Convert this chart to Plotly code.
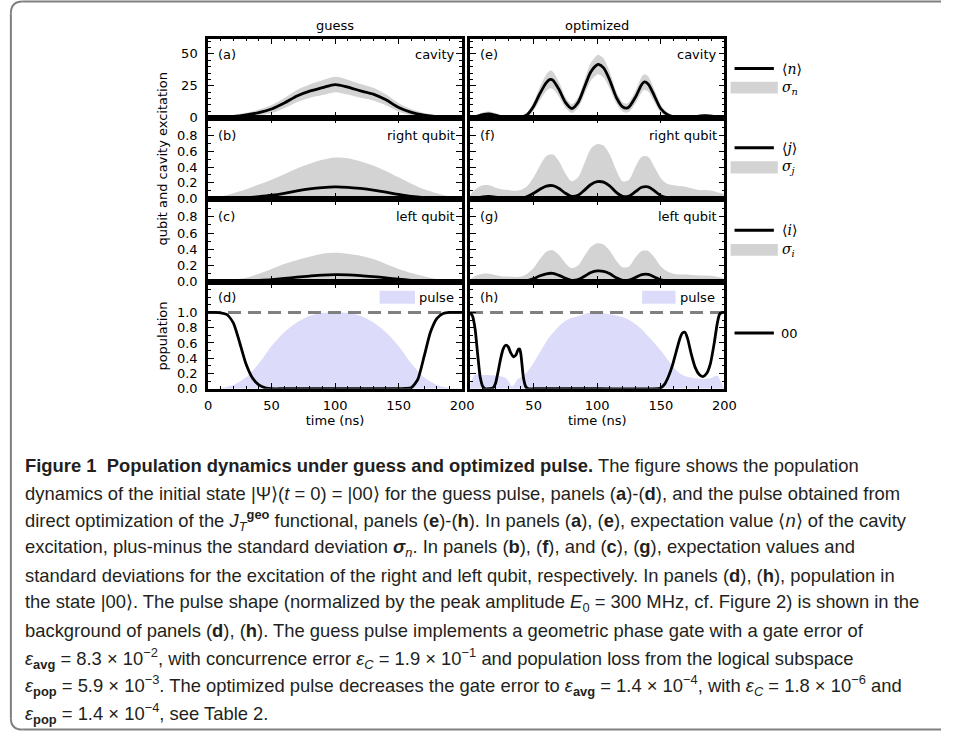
import plotly.graph_objects as go

W, H = 954, 739

# ---------------- data ----------------
t_g = [0, 10, 20, 30, 40, 50, 60, 70, 80, 90, 100, 110, 120, 130, 140, 150, 160, 170, 180, 190, 200]
n_guess = [0.3, 0.5, 1.0, 2.2, 4.0, 6.8, 11.5, 17.0, 20.8, 23.5, 26.0, 24.0, 21.0, 18.5, 14.0, 8.0, 4.2, 2.0, 0.9, 0.5, 0.3]
sn_guess = [0.4, 0.6, 1.0, 1.6, 2.4, 3.2, 4.0, 4.8, 5.3, 5.8, 6.0, 5.8, 5.4, 5.0, 4.3, 3.3, 2.4, 1.6, 1.0, 0.6, 0.4]
j_guess = [0.0, 0.002, 0.006, 0.015, 0.028, 0.045, 0.07, 0.1, 0.125, 0.142, 0.15, 0.145, 0.13, 0.11, 0.085, 0.055, 0.03, 0.015, 0.006, 0.002, 0.0]
sj_guess = [0.01, 0.028, 0.064, 0.105, 0.152, 0.195, 0.24, 0.28, 0.315, 0.348, 0.37, 0.365, 0.34, 0.31, 0.265, 0.215, 0.16, 0.105, 0.064, 0.028, 0.01]
i_guess = [0.0, 0.001, 0.004, 0.01, 0.018, 0.028, 0.042, 0.058, 0.072, 0.084, 0.09, 0.087, 0.078, 0.065, 0.05, 0.033, 0.02, 0.01, 0.004, 0.001, 0.0]
si_guess = [0.005, 0.014, 0.026, 0.04, 0.082, 0.132, 0.178, 0.212, 0.238, 0.261, 0.267, 0.258, 0.242, 0.215, 0.17, 0.127, 0.09, 0.06, 0.031, 0.014, 0.005]

t_pop_g = [0, 5, 10, 15, 20, 25, 30, 35, 40, 45, 50, 60, 80, 100, 120, 140, 150, 155, 160, 165, 170, 175, 180, 185, 190, 195, 200]
pop_guess = [1.0, 1.0, 0.995, 0.97, 0.86, 0.6, 0.32, 0.14, 0.05, 0.012, 0.0, 0.0, 0.0, 0.0, 0.0, 0.0, 0.0, 0.004, 0.015, 0.12, 0.42, 0.74, 0.92, 0.985, 1.0, 1.0, 1.0]
pulse_guess = [0.0, 0.01, 0.05, 0.15, 0.33, 0.56, 0.74, 0.87, 0.955, 0.995, 1.0, 0.995, 0.955, 0.87, 0.74, 0.56, 0.33, 0.15, 0.05, 0.01, 0.0]

t_o = [0, 5, 10, 15, 20, 25, 30, 35, 40, 45, 50, 55, 60, 63, 65, 70, 75, 80, 85, 90, 95, 100, 101, 105, 110, 115, 120, 123, 125, 130, 135, 137, 140, 145, 150, 155, 160, 165, 170, 175, 180, 185, 190, 195, 200]
n_opt = [0.2, 1.0, 2.5, 3.0, 2.0, 0.8, 0.5, 0.5, 0.7, 2.5, 9.0, 19.0, 27.5, 30.0, 29.5, 22.0, 12.0, 7.2, 12.0, 24.0, 36.0, 41.5, 41.7, 39.0, 29.0, 16.0, 8.5, 7.5, 8.5, 16.0, 26.0, 28.0, 26.5, 17.0, 7.0, 2.5, 0.8, 0.6, 0.6, 0.8, 1.2, 1.6, 1.3, 0.7, 0.3]
sn_opt = [0.3, 1.0, 1.6, 1.8, 1.4, 0.8, 0.6, 0.6, 0.8, 1.8, 3.5, 5.2, 6.5, 6.9, 6.8, 5.8, 4.2, 3.5, 4.2, 5.6, 7.0, 7.7, 7.7, 7.5, 6.5, 4.8, 3.6, 3.5, 3.8, 5.0, 6.0, 6.1, 6.0, 5.0, 3.2, 1.8, 1.0, 0.8, 0.8, 1.0, 1.2, 1.4, 1.2, 0.8, 0.5]

t_q = [0, 5, 10, 15, 20, 25, 30, 35, 40, 45, 50, 55, 60, 65, 70, 75, 80, 85, 90, 95, 100, 105, 110, 115, 120, 125, 130, 135, 140, 145, 150, 155, 160, 165, 170, 175, 180, 185, 190, 195, 200]
j_opt = [0.0, 0.01, 0.025, 0.03, 0.02, 0.01, 0.008, 0.008, 0.01, 0.03, 0.07, 0.12, 0.16, 0.165, 0.13, 0.07, 0.03, 0.045, 0.11, 0.18, 0.215, 0.21, 0.16, 0.08, 0.03, 0.035, 0.09, 0.145, 0.15, 0.1, 0.04, 0.015, 0.008, 0.006, 0.006, 0.008, 0.01, 0.012, 0.01, 0.005, 0.003]
sj_opt = [0.05, 0.12, 0.145, 0.14, 0.12, 0.11, 0.102, 0.092, 0.1, 0.13, 0.2, 0.3, 0.38, 0.395, 0.34, 0.25, 0.19, 0.225, 0.34, 0.45, 0.475, 0.46, 0.39, 0.28, 0.19, 0.205, 0.31, 0.385, 0.38, 0.3, 0.22, 0.175, 0.162, 0.154, 0.144, 0.122, 0.1, 0.098, 0.09, 0.075, 0.057]
i_opt = [0.0, 0.005, 0.012, 0.015, 0.01, 0.005, 0.004, 0.004, 0.006, 0.015, 0.04, 0.075, 0.1, 0.105, 0.08, 0.045, 0.02, 0.03, 0.07, 0.115, 0.135, 0.13, 0.1, 0.05, 0.02, 0.022, 0.055, 0.09, 0.092, 0.06, 0.025, 0.01, 0.005, 0.004, 0.004, 0.005, 0.006, 0.007, 0.006, 0.003, 0.002]
si_opt = [0.03, 0.075, 0.088, 0.085, 0.075, 0.065, 0.061, 0.056, 0.059, 0.085, 0.13, 0.205, 0.27, 0.285, 0.25, 0.185, 0.15, 0.17, 0.25, 0.315, 0.34, 0.33, 0.28, 0.21, 0.16, 0.168, 0.245, 0.29, 0.288, 0.24, 0.165, 0.12, 0.095, 0.086, 0.086, 0.08, 0.074, 0.073, 0.069, 0.057, 0.038]

t_pop_o = [0, 2, 4, 6, 8, 10, 12, 15, 18, 20, 22, 24, 26, 28, 30, 32, 34, 36, 38, 39, 40, 42, 44, 46, 50, 100, 148, 150, 153, 156, 159, 162, 165, 167, 169, 171, 174, 177, 180, 183, 186, 189, 192, 194, 196, 198, 200]
pop_opt = [1.0, 0.95, 0.78, 0.45, 0.15, 0.03, 0.0, 0.0, 0.01, 0.07, 0.22, 0.39, 0.52, 0.57, 0.55, 0.47, 0.42, 0.44, 0.52, 0.52, 0.45, 0.14, 0.02, 0.0, 0.0, 0.0, 0.0, 0.01, 0.06, 0.16, 0.3, 0.48, 0.66, 0.73, 0.74, 0.66, 0.45, 0.28, 0.19, 0.16, 0.2, 0.33, 0.6, 0.82, 0.97, 1.0, 1.0]

t_pulse_o = [0, 3, 5, 10, 15, 20, 25, 28, 31, 33, 35, 37, 40, 45, 50, 55, 60, 65, 70, 75, 80, 85, 90, 95, 100, 105, 110, 115, 120, 125, 130, 135, 140, 145, 150, 155, 160, 165, 170, 175, 180, 185, 190, 193, 195, 197, 200]
pulse_opt = [0.05, 0.17, 0.19, 0.18, 0.18, 0.17, 0.16, 0.14, 0.08, 0.03, 0.06, 0.12, 0.15, 0.22, 0.34, 0.48, 0.62, 0.73, 0.82, 0.89, 0.93, 0.95, 0.98, 0.995, 1.0, 0.99, 0.975, 0.96, 0.94, 0.9, 0.85, 0.78, 0.69, 0.6, 0.5, 0.39, 0.28, 0.2, 0.16, 0.14, 0.13, 0.13, 0.14, 0.17, 0.16, 0.1, 0.0]

# ---------------- helpers ----------------
def PX(x):
    return x / W

def PY(y):
    return 1 - y / H

BAND = "#d3d3d3"
PULSE = "#dcdcfa"
FONT = "DejaVu Sans"
TXT = 13

col_x = [(207.5, 466.0), (474.0, 732.7)]
row_y = [(39, 119), (119, 201), (201, 285), (285, 393)]
yranges = [[0, 62], [0, 1.02], [0, 1.02], [0, 1.4]]
ytickv = [[0, 25, 50], [0, 0.2, 0.4, 0.6, 0.8], [0, 0.2, 0.4, 0.6, 0.8], [0, 0.2, 0.4, 0.6, 0.8, 1.0]]
yminor = [5, 0.1, 0.1, 0.1]

fig = go.Figure()
layout = {}

panel_names = ["a", "b", "c", "d", "e", "f", "g", "h"]
for k in range(8):
    col, row = k // 4, k % 4
    idx = k + 1
    xs = "" if idx == 1 else str(idx)
    x0, x1 = col_x[col]
    yt, yb = row_y[row]
    xtv = [0, 50, 100, 150, 200] if col == 0 else [50, 100, 150, 200]
    xa = dict(
        domain=[PX(x0), PX(x1)], anchor="y" + xs, range=[0, 200],
        showline=True, linewidth=2.5, linecolor="black", mirror="ticks",
        ticks="inside", ticklen=6, tickwidth=1.3, tickcolor="black",
        tickmode="array", tickvals=xtv, ticklabelstandoff=3,
        showticklabels=(row == 3), tickfont=dict(family=FONT, size=TXT, color="black"),
        minor=dict(ticks="inside", ticklen=3, tickwidth=1, tickcolor="black", tick0=0, dtick=10),
        showgrid=False, zeroline=False, fixedrange=True,
    )
    if row == 3:
        xa["title"] = dict(text="time (ns)", font=dict(family=FONT, size=TXT, color="black"), standoff=1)
    layout["xaxis" + xs] = xa
    ya = dict(
        domain=[PY(yb), PY(yt)], anchor="x" + xs, range=yranges[row],
        showline=True, linewidth=2.5, linecolor="black", mirror="ticks",
        ticks="inside", ticklen=6, tickwidth=1.3, tickcolor="black",
        tickmode="array", tickvals=ytickv[row], ticklabelstandoff=5,
        showticklabels=(col == 0), tickfont=dict(family=FONT, size=TXT, color="black"),
        minor=dict(ticks="inside", ticklen=3, tickwidth=1, tickcolor="black", tick0=0, dtick=yminor[row]),
        showgrid=False, zeroline=False, fixedrange=True,
    )
    if col == 0:
        ya["ticktext"] = [("%d" % v) if row == 0 else ("%.1f" % v) for v in ytickv[row]]
    layout["yaxis" + xs] = ya

def band(t, mean, sig, xa, ya):
    up = [m + s for m, s in zip(mean, sig)]
    lo = [m - s for m, s in zip(mean, sig)]
    fig.add_trace(go.Scatter(x=t, y=up, xaxis=xa, yaxis=ya, mode="lines",
                             line=dict(width=0, shape="spline", smoothing=0.8), showlegend=False, hoverinfo="skip"))
    fig.add_trace(go.Scatter(x=t, y=lo, xaxis=xa, yaxis=ya, mode="lines", fill="tonexty", fillcolor=BAND,
                             line=dict(width=0, shape="spline", smoothing=0.8), showlegend=False, hoverinfo="skip"))
    fig.add_trace(go.Scatter(x=t, y=mean, xaxis=xa, yaxis=ya, mode="lines",
                             line=dict(color="black", width=2.8, shape="spline", smoothing=0.8),
                             showlegend=False, hoverinfo="skip"))

band(t_g, n_guess, sn_guess, "x", "y")
band(t_g, j_guess, sj_guess, "x2", "y2")
band(t_g, i_guess, si_guess, "x3", "y3")
band(t_o, n_opt, sn_opt, "x5", "y5")
band(t_q, j_opt, sj_opt, "x6", "y6")
band(t_q, i_opt, si_opt, "x7", "y7")

def popanel(tp, pul, tpop, pop, xa, ya):
    fig.add_trace(go.Scatter(x=tp, y=pul, xaxis=xa, yaxis=ya, mode="lines", fill="tozeroy", fillcolor=PULSE,
                             line=dict(width=0, shape="spline", smoothing=0.6), showlegend=False, hoverinfo="skip"))
    fig.add_trace(go.Scatter(x=[0, 200], y=[1, 1], xaxis=xa, yaxis=ya, mode="lines",
                             line=dict(color="#808080", width=3, dash="13px,7px"), showlegend=False, hoverinfo="skip"))
    fig.add_trace(go.Scatter(x=tpop, y=pop, xaxis=xa, yaxis=ya, mode="lines",
                             line=dict(color="black", width=2.8, shape="spline", smoothing=0.6),
                             showlegend=False, hoverinfo="skip"))

popanel(t_g, pulse_guess, t_pop_g, pop_guess, "x4", "y4")
popanel(t_pulse_o, pulse_opt, t_pop_o, pop_opt, "x8", "y8")

annotations = []
shapes = []

def txt(x, y, s, size=TXT, xanchor="center", family=FONT, color="black", angle=0):
    annotations.append(dict(x=PX(x), y=PY(y), xref="paper", yref="paper", text=s, showarrow=False,
                            xanchor=xanchor, yanchor="middle", textangle=angle,
                            font=dict(family=family, size=size, color=color)))

# column titles and axis titles
txt(337, 25.5, "guess")
txt(603, 25.5, "optimized")
txt(161, 161, "qubit and cavity excitation", angle=-90)
txt(161, 340, "population", angle=-90)

# panel labels
labels_right = ["cavity", "right qubit", "left qubit", None]
for k in range(8):
    col, row = k // 4, k % 4
    x0, x1 = col_x[col]
    yt, yb = row_y[row]
    yc = yt + (16 if row == 0 else 17.5 if row < 3 else 15.5)
    txt(x0 + 8, yc, "(%s)" % panel_names[k], xanchor="left")
    if labels_right[row]:
        txt(x1 - 5, yc, labels_right[row], xanchor="right")

# pulse legend patches
for (a, b, tx) in [(382, 418, 420), (649, 683, 686)]:
    shapes.append(dict(type="rect", xref="paper", yref="paper", x0=PX(a), x1=PX(b), y0=PY(307), y1=PY(294),
                       fillcolor=PULSE, line=dict(width=0), layer="above"))
    txt(tx, 301, "pulse", xanchor="left")

# right legend
MATH = "DejaVu Serif"
for (yl, yp0, yp1, mtxt, stxt) in [
        (69.3, 82.7, 94.5, "⟨<i>n</i>⟩", "<i>σ<sub>n</sub></i>"),
        (149.3, 163, 175.5, "⟨<i>j</i>⟩", "<i>σ<sub>j</sub></i>"),
        (232.7, 246.7, 258.5, "⟨<i>i</i>⟩", "<i>σ<sub>i</sub></i>")]:
    shapes.append(dict(type="line", xref="paper", yref="paper", x0=PX(743), x1=PX(783), y0=PY(yl), y1=PY(yl),
                       line=dict(color="black", width=3)))
    shapes.append(dict(type="rect", xref="paper", yref="paper", x0=PX(739), x1=PX(787), y0=PY(yp1), y1=PY(yp0),
                       fillcolor=BAND, line=dict(width=0)))
    txt(789, yl, mtxt, xanchor="left", family=MATH, size=14)
    txt(789, (yp0 + yp1) / 2, stxt, xanchor="left", family=MATH, size=14)
shapes.append(dict(type="line", xref="paper", yref="paper", x0=PX(743), x1=PX(783), y0=PY(336.7), y1=PY(336.7),
                   line=dict(color="black", width=3)))
txt(788, 337, "00", xanchor="left")

# outer rounded border (open on the right): separate segments
BORDER = dict(color="#808080", width=2)
shapes.append(dict(type="line", xref="paper", yref="paper", x0=PX(19), x1=PX(953), y0=PY(1.5), y1=PY(1.5), line=BORDER))
shapes.append(dict(type="line", xref="paper", yref="paper", x0=PX(7), x1=PX(7), y0=PY(13.5), y1=PY(726), line=BORDER))
shapes.append(dict(type="line", xref="paper", yref="paper", x0=PX(19), x1=PX(953), y0=PY(737.5), y1=PY(737.5), line=BORDER))
shapes.append(dict(type="path", xref="paper", yref="paper", line=BORDER,
                   path="M %f,%f Q %f,%f %f,%f" % (PX(19), PY(1.5), PX(7), PY(1.5), PX(7), PY(13.5))))
shapes.append(dict(type="path", xref="paper", yref="paper", line=BORDER,
                   path="M %f,%f Q %f,%f %f,%f" % (PX(7), PY(726), PX(7), PY(737.5), PX(19), PY(737.5))))

# caption
CAP = "Liberation Sans, Arial, sans-serif"
cap_lines = [
    "<b>Figure 1  Population dynamics under guess and optimized pulse.</b> The figure shows the population",
    "dynamics of the initial state |Ψ⟩(<i>t</i> = 0) = |00⟩ for the guess pulse, panels (<b>a</b>)-(<b>d</b>), and the pulse obtained from",
    "direct optimization of the <i>J</i><sub><i>T</i></sub><sup><b>geo</b></sup> functional, panels (<b>e</b>)-(<b>h</b>). In panels (<b>a</b>), (<b>e</b>), expectation value ⟨<i>n</i>⟩ of the cavity",
    "excitation, plus-minus the standard deviation <b><i>σ</i></b><sub><i>n</i></sub>. In panels (<b>b</b>), (<b>f</b>), and (<b>c</b>), (<b>g</b>), expectation values and",
    "standard deviations for the excitation of the right and left qubit, respectively. In panels (<b>d</b>), (<b>h</b>), population in",
    "the state |00⟩. The pulse shape (normalized by the peak amplitude <i>E</i><sub>0</sub> = 300 MHz, cf. Figure 2) is shown in the",
    "background of panels (<b>d</b>), (<b>h</b>). The guess pulse implements a geometric phase gate with a gate error of",
    "<i>ε</i><sub><b>avg</b></sub> = 8.3 × 10<sup>−2</sup>, with concurrence error <i>ε<sub>C</sub></i> = 1.9 × 10<sup>−1</sup> and population loss from the logical subspace",
    "<i>ε</i><sub><b>pop</b></sub> = 5.9 × 10<sup>−3</sup>. The optimized pulse decreases the gate error to <i>ε</i><sub><b>avg</b></sub> = 1.4 × 10<sup>−4</sup>, with <i>ε<sub>C</sub></i> = 1.8 × 10<sup>−6</sup> and",
    "<i>ε</i><sub><b>pop</b></sub> = 1.4 × 10<sup>−4</sup>, see Table 2.",
]
for i, line in enumerate(cap_lines):
    txt(19, 471 + i * 27.8, line, xanchor="left", family=CAP, size=18.4, color="#231f20")

fig.update_layout(**layout)
fig.update_layout(
    width=W, height=H, margin=dict(l=0, r=0, t=0, b=0),
    paper_bgcolor="white", plot_bgcolor="white", showlegend=False,
    annotations=annotations, shapes=shapes,
)
fig.write_html("out.html", config={"displayModeBar": False},
               post_script="document.body.style.margin='0px';document.body.style.overflow='hidden';")
